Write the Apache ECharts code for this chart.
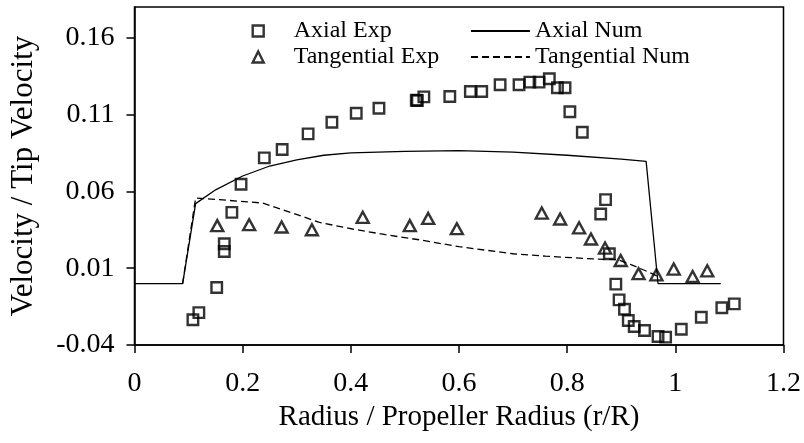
<!DOCTYPE html>
<html>
<head>
<meta charset="utf-8">
<script src="https://cdn.jsdelivr.net/npm/echarts@6/dist/echarts.min.js"></script>
<style>
html,body{margin:0;padding:0;background:#fff;}
#chart{width:804px;height:443px;}
</style>
</head>
<body>
<div id="chart"></div>
<script>
// ---- data (r/R, velocity/tip velocity) ----
const axialExpR = [0.108,0.119,0.152,0.166,0.166,0.180,0.197,0.240,0.273,0.321,0.365,0.410,0.452,0.521,0.523,0.535,0.583,0.621,0.642,0.676,0.711,0.731,0.748,0.767,0.782,0.796,0.805,0.828,0.862,0.871,0.878,0.890,0.896,0.906,0.913,0.924,0.943,0.968,0.982,1.011,1.048,1.086,1.109];
const axialExpV = [-0.0236,-0.0189,-0.0026,0.0259,0.0209,0.0463,0.0646,0.0818,0.0872,0.0974,0.105,0.1108,0.1141,0.1193,0.1191,0.1215,0.1217,0.125,0.125,0.1294,0.1294,0.1311,0.1311,0.1333,0.1274,0.1274,0.1118,0.0985,0.0453,0.0546,0.0194,-0.0004,-0.0106,-0.0167,-0.0241,-0.028,-0.0306,-0.0345,-0.0349,-0.0297,-0.0219,-0.0158,-0.0132];

const tangExpR = [0.153,0.212,0.272,0.328,0.422,0.509,0.543,0.596,0.753,0.787,0.822,0.844,0.870,0.899,0.932,0.965,0.997,1.032,1.059];
const tangExpV = [0.0377,0.0383,0.0368,0.035,0.0431,0.0377,0.0424,0.0357,0.0459,0.042,0.0363,0.029,0.0231,0.015,0.0064,0.0057,0.0094,0.0046,0.0083];

const axialNumR = [0,0.089,0.113,0.15,0.2,0.25,0.3,0.35,0.4,0.5,0.6,0.7,0.8,0.9,0.946,0.968,1.084];
const axialNumV = [0,0,0.052,0.061,0.070,0.0765,0.0805,0.0835,0.085,0.086,0.0865,0.0855,0.0835,0.081,0.0795,0,0];

const tangNumR = [0.089,0.113,0.157,0.237,0.292,0.342,0.403,0.464,0.526,0.6,0.7,0.76,0.85,0.894,0.919,0.955,0.968];
const tangNumV = [0,0.0557,0.0546,0.0524,0.0459,0.0398,0.0355,0.0318,0.0285,0.024,0.0194,0.0178,0.016,0.0155,0.0122,0.0068,0.0046];

const xTicks = [0,0.2,0.4,0.6,0.8,1,1.2];
const yTicks = [-0.04,0.01,0.06,0.11,0.16];

const seriesNames = ['Axial Exp','Tangential Exp','Axial Num','Tangential Num'];
const xTitle = 'Radius / Propeller Radius (r/R)';
const yTitle = 'Velocity / Tip Velocity';

function zip(a,b){return a.map((v,i)=>[v,b[i]]);}

const FONT = "'Liberation Serif','Times New Roman',serif";
const chart = echarts.init(document.getElementById('chart'), null, {renderer:'canvas'});
const markerStyle = {color:'rgba(0,0,0,0)', borderColor:'#000', borderWidth:2.4};

chart.setOption({
  animation:false,
  backgroundColor:'#fff',
  grid:{left:134.5, right:18, top:7, bottom:98, show:true, borderColor:'#000', borderWidth:1.5, backgroundColor:'transparent'},
  legend:[
    {data:[seriesNames[0],seriesNames[1]], orient:'vertical', left:251.5, top:18, padding:0, itemGap:0,
     itemWidth:11, itemHeight:11, selectedMode:false,
     itemStyle:{color:'rgba(0,0,0,0)', borderColor:'#000', borderWidth:2.4},
     textStyle:{fontFamily:FONT, fontSize:24, color:'#000', lineHeight:26, padding:[0,0,0,25]}},
    {data:[seriesNames[2],seriesNames[3]], orient:'vertical', left:470, top:18, padding:0, itemGap:0,
     itemWidth:59, itemHeight:11, selectedMode:false,
     itemStyle:{color:'rgba(0,0,0,0)', borderWidth:0},
     textStyle:{fontFamily:FONT, fontSize:24, color:'#000', lineHeight:26}}
  ],
  xAxis:{
    type:'value', min:0, max:1.2, interval:0.2,
    name:xTitle, nameLocation:'middle', nameGap:46,
    nameTextStyle:{fontFamily:FONT, fontSize:29, color:'#000'},
    axisLine:{show:true, onZero:false, lineStyle:{color:'#000', width:1.5}},
    axisTick:{show:true, length:8, lineStyle:{color:'#000', width:1.5}},
    axisLabel:{fontFamily:FONT, fontSize:28, color:'#000', margin:25, formatter:(v)=>String(+v.toFixed(2))},
    splitLine:{show:false}
  },
  yAxis:{
    type:'value', min:-0.04, max:0.18,
    name:yTitle, nameLocation:'middle', nameGap:95, nameRotate:90,
    nameTextStyle:{fontFamily:FONT, fontSize:31, color:'#000'},
    axisLine:{show:true, onZero:false, lineStyle:{color:'#000', width:1.5}},
    axisTick:{show:true, length:8, lineStyle:{color:'#000', width:1.5}, customValues:yTicks},
    axisLabel:{fontFamily:FONT, fontSize:28, color:'#000', margin:20, customValues:yTicks,
      formatter:(v)=>Number(v).toFixed(2)},
    splitLine:{show:false}
  },
  series:[
    {name:seriesNames[0], type:'scatter', data:zip(axialExpR,axialExpV), symbol:'rect', symbolSize:10.5,
     itemStyle:markerStyle, emphasis:{disabled:true}, z:3},
    {name:seriesNames[1], type:'scatter', data:zip(tangExpR,tangExpV), symbol:'triangle', symbolSize:[12,11],
     itemStyle:markerStyle, emphasis:{disabled:true}, z:3},
    {name:seriesNames[2], type:'line', data:zip(axialNumR,axialNumV), symbol:'none', smooth:false,
     lineStyle:{color:'#000', width:1.3, type:'solid'}, itemStyle:{color:'#000'}, emphasis:{disabled:true}},
    {name:seriesNames[3], type:'line', data:zip(tangNumR,tangNumV), symbol:'none', smooth:false,
     lineStyle:{color:'#000', width:1.3, type:[7,4]}, itemStyle:{color:'#000'}, emphasis:{disabled:true}}
  ]
});
</script>
</body>
</html>
